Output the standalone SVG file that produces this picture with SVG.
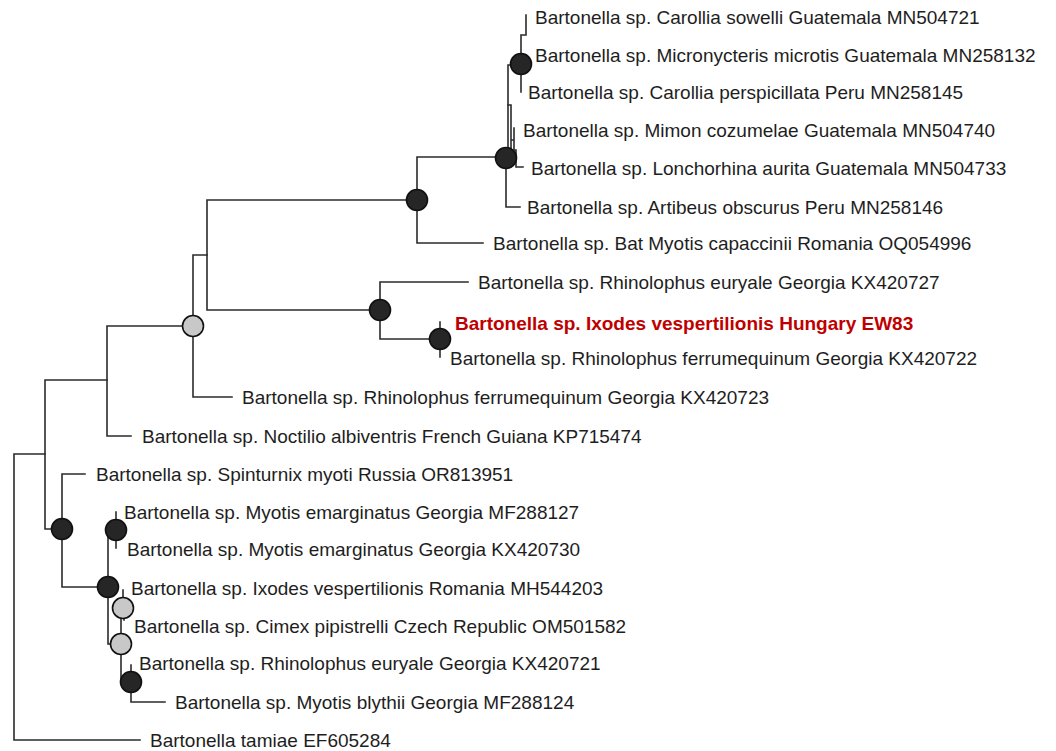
<svg xmlns="http://www.w3.org/2000/svg" width="1056" height="751" viewBox="0 0 1056 751">
<style>
.e{fill:none;stroke:#2b2b2b;stroke-width:1.6;stroke-linecap:square}
.t{font-family:"Liberation Sans",Arial,sans-serif;font-size:19px;fill:#1e1e1e}
.r{font-family:"Liberation Sans",Arial,sans-serif;font-size:19px;font-weight:bold;fill:#c00000}
.b{fill:#262626;stroke:#111;stroke-width:1.6}
.g{fill:#c8c8c8;stroke:#111;stroke-width:1.6}
</style>
<rect width="1056" height="751" fill="#fff"/>
<g id="connectors">
<path class="e" d="M14,454V740H140M14,454H45"/>
<path class="e" d="M45,380V529H62M45,380H107"/>
<path class="e" d="M107,326V436H131M107,326H193"/>
<path class="e" d="M193,255V397H232M193,255H207"/>
<path class="e" d="M207,200V310H380M207,200H417"/>
<path class="e" d="M417,157V243H483M417,157H506"/>
<path class="e" d="M506,157V207H520M508,65V157M508,65H521"/>
<path class="e" d="M508,105H511V157M514,128V150M511,140H514M514,150H516V167H523"/>
<path class="e" d="M521,35V92M521,35H526V15M521,55H526"/>
<path class="e" d="M380,282V339H440M380,282H468"/>
<path class="e" d="M440,322V357"/>
<path class="e" d="M62,474V587H108M62,474H85"/>
<path class="e" d="M108,530V644H121M108,530H116"/>
<path class="e" d="M116,512V548"/>
<path class="e" d="M121,608V682H131M121,608H123"/>
<path class="e" d="M123,590V608M124,608V620"/>
<path class="e" d="M131,665V702H165"/>
</g>
<g id="n_cs"><text class="t" x="535" y="24">Bartonella sp. Carollia sowelli Guatemala MN504721</text></g>
<g id="n_mm"><text class="t" x="535" y="62">Bartonella sp. Micronycteris microtis Guatemala MN258132</text></g>
<g id="n_cp"><text class="t" x="528" y="99">Bartonella sp. Carollia perspicillata Peru MN258145</text></g>
<g id="n_mc"><text class="t" x="523" y="137">Bartonella sp. Mimon cozumelae Guatemala MN504740</text></g>
<g id="n_la"><text class="t" x="531" y="175">Bartonella sp. Lonchorhina aurita Guatemala MN504733</text></g>
<g id="n_ao"><text class="t" x="527" y="214">Bartonella sp. Artibeus obscurus Peru MN258146</text></g>
<g id="n_bm"><text class="t" x="493" y="250">Bartonella sp. Bat Myotis capaccinii Romania OQ054996</text></g>
<g id="n_re1"><text class="t" x="478" y="289">Bartonella sp. Rhinolophus euryale Georgia KX420727</text></g>
<g id="n_hu"><text class="r" x="455" y="330">Bartonella sp. Ixodes vespertilionis Hungary EW83</text></g>
<g id="n_rf1"><text class="t" x="450" y="365">Bartonella sp. Rhinolophus ferrumequinum Georgia KX420722</text></g>
<g id="n_rf2"><text class="t" x="242" y="404">Bartonella sp. Rhinolophus ferrumequinum Georgia KX420723</text></g>
<g id="n_na"><text class="t" x="142" y="443">Bartonella sp. Noctilio albiventris French Guiana KP715474</text></g>
<g id="n_sm"><text class="t" x="96" y="481">Bartonella sp. Spinturnix myoti Russia OR813951</text></g>
<g id="n_me1"><text class="t" x="124" y="519">Bartonella sp. Myotis emarginatus Georgia MF288127</text></g>
<g id="n_me2"><text class="t" x="127" y="556">Bartonella sp. Myotis emarginatus Georgia KX420730</text></g>
<g id="n_ir"><text class="t" x="131" y="595">Bartonella sp. Ixodes vespertilionis Romania MH544203</text></g>
<g id="n_cx"><text class="t" x="134" y="633">Bartonella sp. Cimex pipistrelli Czech Republic OM501582</text></g>
<g id="n_re2"><text class="t" x="139" y="670">Bartonella sp. Rhinolophus euryale Georgia KX420721</text></g>
<g id="n_mb"><text class="t" x="175" y="709">Bartonella sp. Myotis blythii Georgia MF288124</text></g>
<g id="n_bt"><text class="t" x="150" y="747">Bartonella tamiae EF605284</text></g>
<g id="i1"><circle class="b" cx="521" cy="64" r="10.5"/></g>
<g id="i2"><circle class="b" cx="506" cy="158" r="10.5"/></g>
<g id="i3"><circle class="b" cx="417" cy="200" r="10.5"/></g>
<g id="i4"><circle class="b" cx="380" cy="310" r="10.5"/></g>
<g id="i5"><circle class="b" cx="440" cy="339" r="10.5"/></g>
<g id="i6"><circle class="g" cx="193" cy="326" r="10.5"/></g>
<g id="i7"><circle class="b" cx="62" cy="529" r="10.5"/></g>
<g id="i8"><circle class="b" cx="116" cy="530" r="10.5"/></g>
<g id="i9"><circle class="b" cx="108" cy="587" r="10.5"/></g>
<g id="i10"><circle class="g" cx="123" cy="608" r="10.5"/></g>
<g id="i11"><circle class="g" cx="121" cy="644" r="10.5"/></g>
<g id="i12"><circle class="b" cx="131" cy="682" r="10.5"/></g>
</svg>
